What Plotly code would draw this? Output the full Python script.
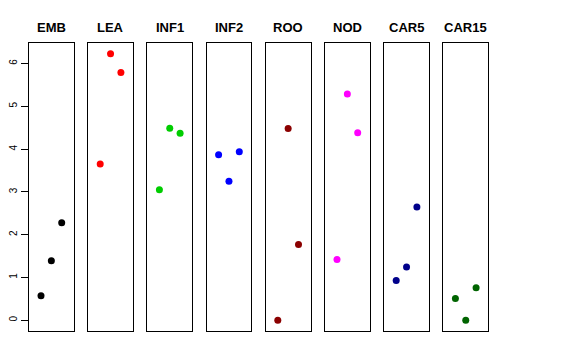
import plotly.graph_objects as go

tissues = ["EMB", "LEA", "INF1", "INF2", "ROO", "NOD", "CAR5", "CAR15"]
colors = ["#000000", "#FF0000", "#00CD00", "#0000FF", "#8B0000", "#FF00FF", "#00008B", "#006400"]
x_pos = [1, 2, 3]
emb = [0.575, 1.39, 2.28]
lea = [3.65, 6.23, 5.79]
inf1 = [3.05, 4.49, 4.37]
inf2 = [3.87, 3.25, 3.94]
roo = [0.0, 4.48, 1.77]
nod = [1.42, 5.29, 4.38]
car5 = [0.93, 1.245, 2.65]
car15 = [0.51, 0.0, 0.76]
values = [emb, lea, inf1, inf2, roo, nod, car5, car15]
y_ticks = [0, 1, 2, 3, 4, 5, 6]

OFF = 8  # browser default body margin
W, H = 576 - OFF, 360 - OFF
left0, step, pw = 29.0 - OFF, 59.2, 44.7
top_px, bot_px = 43.0 - OFF, 331.0 - OFF
title_px = 28.0 - OFF

fig = go.Figure()
for i, (name, col, vals) in enumerate(zip(tissues, colors, values)):
    ax = "" if i == 0 else str(i + 1)
    fig.add_trace(go.Scatter(x=x_pos, y=vals, mode="markers",
                             marker=dict(color=col, size=7),
                             xaxis="x" + ax, yaxis="y" + ax, showlegend=False,
                             cliponaxis=False))
    x0 = (left0 + i * step) / W
    x1 = (left0 + i * step + pw) / W
    fig.layout["xaxis" + ax] = dict(domain=[x0, x1], range=[-0.16, 4.16],
                                    showticklabels=False, ticks="", showgrid=False,
                                    zeroline=False, showline=True, mirror=True,
                                    linecolor="black", linewidth=1,
                                    anchor="y" + ax, automargin=False)
    yax = dict(domain=[1 - bot_px / H, 1 - top_px / H], range=[-0.25, 6.48],
               showgrid=False, zeroline=False, showline=True, mirror=True,
               linecolor="black", linewidth=1, anchor="x" + ax, automargin=False)
    if i == 0:
        yax.update(tickvals=y_ticks, ticks="outside", ticklen=7, tickcolor="black",
                   tickangle=-90, tickfont=dict(size=10, color="black"),
                   ticklabelstandoff=0)
    else:
        yax.update(showticklabels=False, ticks="")
    fig.layout["yaxis" + ax] = yax
    fig.add_annotation(text="<b>" + name + "</b>", xref="paper", yref="paper",
                       x=(x0 + x1) / 2, y=1 - title_px / H, showarrow=False,
                       xanchor="center", yanchor="middle",
                       font=dict(size=13, color="black"))

fig.update_layout(width=W, height=H, margin=dict(l=0, r=0, t=0, b=0, autoexpand=False),
                  paper_bgcolor="white", plot_bgcolor="white",
                  font=dict(family="Liberation Sans, Arial, sans-serif"))
fig.write_html("out.html")
